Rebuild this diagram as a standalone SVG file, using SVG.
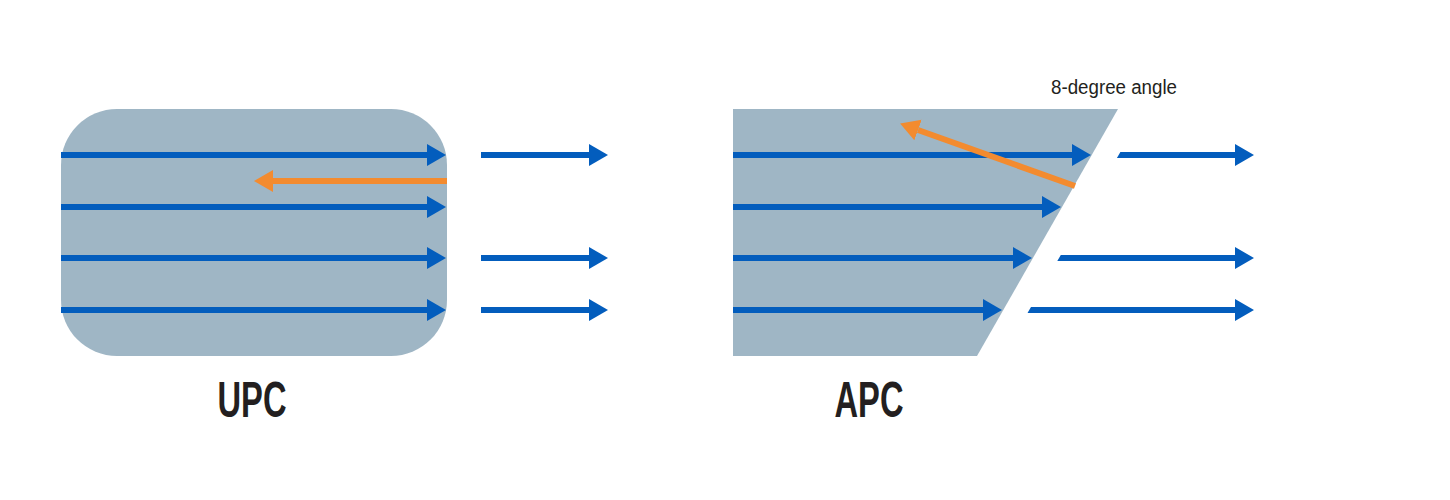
<svg xmlns="http://www.w3.org/2000/svg" width="1450" height="500" viewBox="0 0 1450 500">
  <style>
    .body { fill: #9fb6c5; }
    .ray { stroke: #035dbd; stroke-width: 6; fill: none; }
    .rayfill { fill: #035dbd; }
    .refl { stroke: #f38b2f; stroke-width: 6; fill: none; }
    .label { font-family: "Liberation Sans Narrow", "Liberation Sans", Arial, sans-serif; font-weight: bold; font-size: 50px; fill: #231f20; }
    .note { font-family: "Liberation Sans Narrow", "Liberation Sans", Arial, sans-serif; font-size: 20px; fill: #231f20; }
  </style>
  <defs>
    <marker id="hb" markerUnits="userSpaceOnUse" markerWidth="20" markerHeight="24" viewBox="0 -12 20 24" refX="0" refY="0" orient="auto">
      <path d="M0,-11 L19,0 L0,11 Z" fill="#035dbd"/>
    </marker>
    <marker id="ho" markerUnits="userSpaceOnUse" markerWidth="20" markerHeight="24" viewBox="0 -12 20 24" refX="0" refY="0" orient="auto">
      <path d="M0,-11 L19,0 L0,11 Z" fill="#f38b2f"/>
    </marker>
  </defs>

  <g id="upc">
    <rect class="body" x="61" y="109" width="386" height="247" rx="56" ry="56"/>
    <text class="label" x="252" y="417" text-anchor="middle" textLength="69" lengthAdjust="spacingAndGlyphs">UPC</text>
  </g>

  <g id="apc">
    <polygon class="body" points="733,109 1118,109 977,356 733,356"/>
    <text class="label" x="869" y="417" text-anchor="middle" textLength="69" lengthAdjust="spacingAndGlyphs">APC</text>
    <text class="note" x="1051" y="94" textLength="126" lengthAdjust="spacingAndGlyphs">8-degree angle</text>
  </g>

  <g id="connectors">
    <line class="ray" x1="61" y1="155" x2="427" y2="155" marker-end="url(#hb)"/>
    <line class="ray" x1="61" y1="207" x2="427" y2="207" marker-end="url(#hb)"/>
    <line class="ray" x1="61" y1="258" x2="427" y2="258" marker-end="url(#hb)"/>
    <line class="ray" x1="61" y1="310" x2="427" y2="310" marker-end="url(#hb)"/>
    <line class="refl" x1="447" y1="181" x2="273" y2="181" marker-end="url(#ho)"/>
    <line class="ray" x1="481" y1="155" x2="589" y2="155" marker-end="url(#hb)"/>
    <line class="ray" x1="481" y1="258" x2="589" y2="258" marker-end="url(#hb)"/>
    <line class="ray" x1="481" y1="310" x2="589" y2="310" marker-end="url(#hb)"/>

    <line class="ray" x1="733" y1="155" x2="1072" y2="155" marker-end="url(#hb)"/>
    <line class="ray" x1="733" y1="207" x2="1042" y2="207" marker-end="url(#hb)"/>
    <line class="ray" x1="733" y1="258" x2="1013" y2="258" marker-end="url(#hb)"/>
    <line class="ray" x1="733" y1="310" x2="983" y2="310" marker-end="url(#hb)"/>
    <line class="refl" x1="1075" y1="186" x2="918" y2="130" marker-end="url(#ho)"/>
    <polygon class="rayfill" points="1120.4,152 1235,152 1235,144 1254,155 1235,166 1235,158 1116.9,158"/>
    <polygon class="rayfill" points="1060.8,255 1235,255 1235,247 1254,258 1235,269 1235,261 1057.3,261"/>
    <polygon class="rayfill" points="1031.0,307 1235,307 1235,299 1254,310 1235,321 1235,313 1027.5,313"/>
  </g>
</svg>
